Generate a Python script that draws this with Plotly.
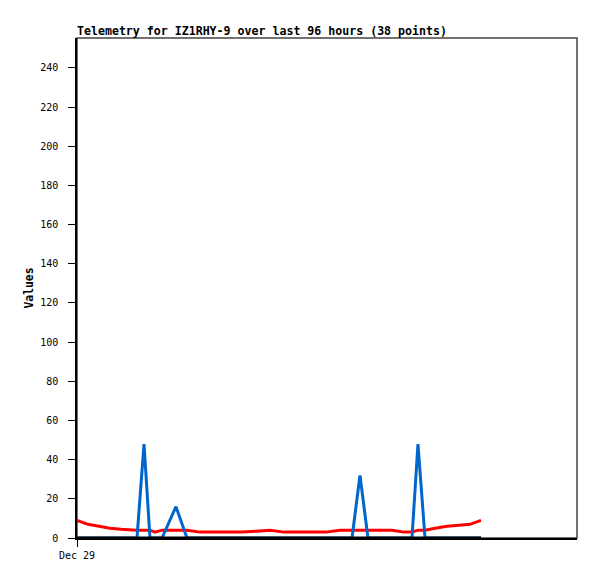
import plotly.graph_objects as go

times = [
    "2024-12-29 00:00", "2024-12-29 02:07", "2024-12-29 04:13", "2024-12-29 06:20",
    "2024-12-29 08:27", "2024-12-29 10:11", "2024-12-29 11:31", "2024-12-29 12:52",
    "2024-12-29 14:01", "2024-12-29 14:59", "2024-12-29 16:19", "2024-12-29 19:00",
    "2024-12-29 21:07", "2024-12-29 23:37", "2024-12-30 02:18", "2024-12-30 05:00",
    "2024-12-30 07:41", "2024-12-30 10:22", "2024-12-30 13:03", "2024-12-30 15:45",
    "2024-12-30 18:26", "2024-12-30 21:07", "2024-12-30 23:48", "2024-12-31 02:30",
    "2024-12-31 04:48", "2024-12-31 06:20", "2024-12-31 07:52", "2024-12-31 10:11",
    "2024-12-31 12:29", "2024-12-31 14:47", "2024-12-31 16:19", "2024-12-31 17:28",
    "2024-12-31 18:49", "2024-12-31 20:44", "2024-12-31 23:02", "2025-01-01 01:21",
    "2025-01-01 03:27", "2025-01-01 05:34",
]

red_values = [9, 7, 6, 5, 4.5, 4, 4, 4, 4, 3, 4, 4, 4, 3, 3, 3, 3, 3.5, 4, 3,
              3, 3, 3, 4, 4, 4, 4, 4, 4, 3, 3, 4, 4, 5, 6, 6.5, 7, 9]
blue_values = [0, 0, 0, 0, 0, 0, 0, 48, 0, 0, 0, 16, 0, 0, 0, 0, 0, 0, 0, 0,
               0, 0, 0, 0, 0, 32, 0, 0, 0, 0, 0, 48, 0, 0, 0, 0, 0, 0]
black_values = [0] * 38

title_text = "Telemetry for IZ1RHY-9 over last 96 hours (38 points)"
y_ticks = [0, 20, 40, 60, 80, 100, 120, 140, 160, 180, 200, 220, 240]
x_tick_vals = ["2024-12-29 00:00"]
x_tick_text = ["Dec 29"]

mono = "DejaVu Sans Mono"
W, H = 589, 571

fig = go.Figure()
fig.add_trace(go.Scatter(x=times, y=red_values, mode="lines",
                         line=dict(color="#ff0000", width=3), hoverinfo="skip"))
fig.add_trace(go.Scatter(x=times, y=blue_values, mode="lines",
                         line=dict(color="#0066cc", width=3), hoverinfo="skip"))
fig.add_trace(go.Scatter(x=times, y=black_values, mode="lines",
                         line=dict(color="#000000", width=3), hoverinfo="skip"))

fig.add_shape(type="rect", xref="paper", yref="paper", x0=0, x1=1, y0=0, y1=1,
              line=dict(color="#444444", width=1.5), layer="below")

fig.update_layout(
    width=W, height=H,
    margin=dict(l=69, r=20, t=30, b=41),
    paper_bgcolor="white", plot_bgcolor="white",
    showlegend=False,
    title=dict(text="<b>" + title_text + "</b>", x=69 / W, xanchor="left",
               y=1 - 27 / H, yanchor="bottom",
               font=dict(family=mono, size=11.6, color="black")),
    font=dict(family=mono, size=10, color="black"),
)
fig.update_xaxes(
    type="date",
    range=["2024-12-29 00:00", "2025-01-02 00:00"],
    tickvals=x_tick_vals, ticktext=x_tick_text,
    ticks="outside", ticklen=7, tickcolor="black", tickwidth=1,
    showline=True, linecolor="black", linewidth=1.5,
    showgrid=False, zeroline=False,
    tickfont=dict(family=mono, size=10, color="black"),
)
fig.update_yaxes(
    range=[0, 255.3],
    tickvals=y_ticks,
    ticks="outside", ticklen=7, tickcolor="black", tickwidth=1,
    ticklabelstandoff=8,
    showline=True, linecolor="black", linewidth=1.5,
    showgrid=False, zeroline=False,
    title=dict(text="<b>Values</b>", standoff=4,
               font=dict(family=mono, size=11.4, color="black")),
    tickfont=dict(family=mono, size=10, color="black"),
)

fig.write_html("out.html")
